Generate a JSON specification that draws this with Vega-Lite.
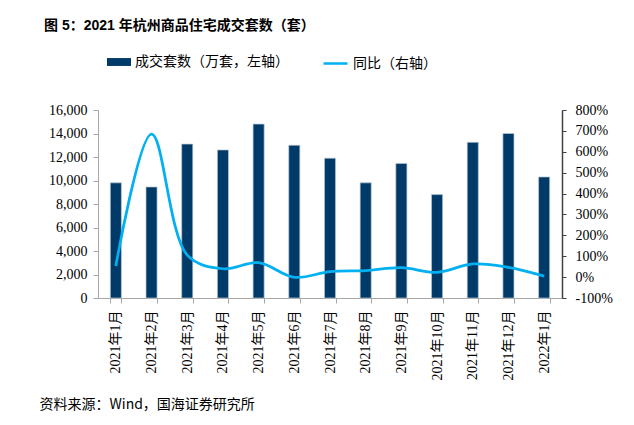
{
  "$schema": "https://vega.github.io/schema/vega-lite/v6.json",
  "autosize": {"type": "none"},
  "width": 464,
  "height": 188,
  "padding": {"left": 98, "top": 110, "right": 72, "bottom": 127},
  "background": "white",
  "title": {
    "text": "图 5：2021 年杭州商品住宅成交套数（套）",
    "anchor": "start",
    "frame": "group",
    "dx": -54,
    "offset": 17,
    "font": "Liberation Sans, Noto Sans CJK SC",
    "fontSize": 14,
    "fontWeight": "bold",
    "color": "#000000"
  },
  "data": {
    "values": [
      {"month": "2021年1月", "sales": 9800, "yoy": 53},
      {"month": "2021年2月", "sales": 9450, "yoy": 685},
      {"month": "2021年3月", "sales": 13100, "yoy": 105},
      {"month": "2021年4月", "sales": 12600, "yoy": 40},
      {"month": "2021年5月", "sales": 14800, "yoy": 69},
      {"month": "2021年6月", "sales": 13000, "yoy": -1},
      {"month": "2021年7月", "sales": 11900, "yoy": 26},
      {"month": "2021年8月", "sales": 9800, "yoy": 31},
      {"month": "2021年9月", "sales": 11450, "yoy": 45},
      {"month": "2021年10月", "sales": 8800, "yoy": 23},
      {"month": "2021年11月", "sales": 13250, "yoy": 63},
      {"month": "2021年12月", "sales": 14000, "yoy": 47},
      {"month": "2022年1月", "sales": 10300, "yoy": 5}
    ]
  },
  "encoding": {
    "x": {
      "field": "month",
      "type": "nominal",
      "sort": null,
      "scale": {"paddingInner": 0.69, "paddingOuter": 0.345},
      "axis": {
        "title": "资料来源：Wind，国海证券研究所",
        "titleX": -59,
        "titleY": 106,
        "titleAlign": "left",
        "titleAnchor": null,
        "titleBaseline": "middle",
        "titleAngle": 0,
        "titleFont": "Noto Sans CJK SC",
        "titleFontSize": 14,
        "titleFontWeight": "normal",
        "titleColor": "#000000",
        "labelAngle": -90,
        "labelAlign": "right",
        "labelBaseline": "middle",
        "labelFont": "Liberation Serif, Noto Sans CJK SC",
        "labelFontSize": 14,
        "labelColor": "#000000",
        "labelPadding": 7,
        "tickBand": "extent",
        "tickSize": 5,
        "tickColor": "#a6a6a6",
        "domainColor": "#a6a6a6",
        "grid": false
      }
    }
  },
  "layer": [
    {
      "mark": {"type": "bar", "stroke": "#b9c6d3", "strokeWidth": 0.7},
      "encoding": {
        "y": {
          "field": "sales",
          "type": "quantitative",
          "scale": {"domain": [0, 16000], "nice": false},
          "axis": {
            "orient": "left",
            "title": null,
            "values": [0, 2000, 4000, 6000, 8000, 10000, 12000, 14000, 16000],
            "format": ",.0f",
            "labelFont": "Liberation Serif",
            "labelFontSize": 14,
            "labelColor": "#000000",
            "labelPadding": 6,
            "tickSize": 5,
            "tickColor": "#a6a6a6",
            "domainColor": "#a6a6a6",
            "grid": false
          }
        },
        "fill": {
          "datum": "成交套数（万套，左轴）",
          "type": "nominal",
          "scale": {"domain": ["成交套数（万套，左轴）"], "range": ["#003a68"]},
          "legend": {
            "orient": "none",
            "legendX": 9,
            "legendY": -60,
            "title": null,
            "symbolType": "M-1,-0.33H1V0.33H-1Z",
            "symbolSize": 576,
            "symbolStrokeWidth": 0,
            "labelFont": "Noto Sans CJK SC",
            "labelFontSize": 14,
            "labelColor": "#000000",
            "labelOffset": 4
          }
        }
      }
    },
    {
      "mark": {"type": "line", "interpolate": "catmull-rom", "strokeWidth": 2.75},
      "encoding": {
        "y": {
          "field": "yoy",
          "type": "quantitative",
          "scale": {"domain": [-100, 800], "nice": false},
          "axis": {
            "orient": "right",
            "title": null,
            "values": [-100, 0, 100, 200, 300, 400, 500, 600, 700, 800],
            "labelExpr": "datum.value + '%'",
            "labelFont": "Liberation Serif",
            "labelFontSize": 14,
            "labelColor": "#000000",
            "labelPadding": 9,
            "tickSize": 4,
            "tickColor": "#404040",
            "domainColor": "#404040",
            "domainWidth": 1.5,
            "grid": false
          }
        },
        "stroke": {
          "datum": "同比（右轴）",
          "type": "nominal",
          "scale": {"domain": ["同比（右轴）"], "range": ["#00b0f0"]},
          "legend": {
            "orient": "none",
            "legendX": 224,
            "legendY": -60,
            "title": null,
            "symbolType": "stroke",
            "symbolSize": 576,
            "symbolStrokeWidth": 2.5,
            "labelFont": "Noto Sans CJK SC",
            "labelFontSize": 14,
            "labelColor": "#000000",
            "labelOffset": 4
          }
        }
      }
    }
  ],
  "resolve": {"scale": {"y": "independent"}},
  "config": {"view": {"stroke": null}}
}
